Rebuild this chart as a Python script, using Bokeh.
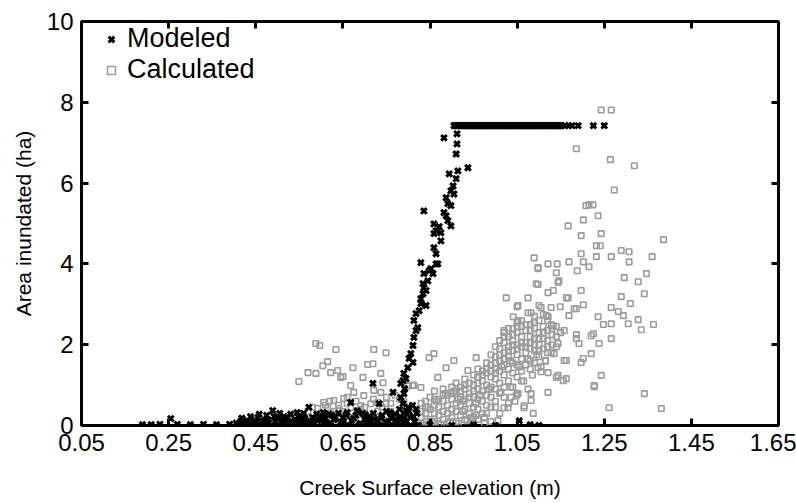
from bokeh.plotting import figure
from bokeh.models import ColumnDataSource, LinearAxis, FixedTicker, Range1d, Legend
from bokeh.embed import file_html
from bokeh.resources import INLINE

# ---------------- data ----------------
x_ticks = [0.05, 0.25, 0.45, 0.65, 0.85, 1.05, 1.25, 1.45, 1.65]
y_ticks = [0, 2, 4, 6, 8, 10]

# Modeled (black x)
modeled_x = [
    0.19, 0.21, 0.23, 0.255, 0.27, 0.30, 0.33, 0.36, 0.39,
    0.415, 0.42, 0.43, 0.435, 0.44, 0.45, 0.455, 0.46, 0.47, 0.475, 0.48, 0.489, 0.495, 0.50, 0.51,
    0.515, 0.52, 0.53, 0.535, 0.54, 0.55, 0.555, 0.56, 0.565, 0.572, 0.58, 0.585, 0.59, 0.60, 0.605,
    0.61, 0.62, 0.625, 0.63, 0.64, 0.645, 0.65, 0.66, 0.668, 0.67, 0.68, 0.69, 0.695, 0.70, 0.71,
    0.715, 0.719, 0.72, 0.73, 0.733, 0.74, 0.75, 0.755, 0.76, 0.765, 0.77, 0.775, 0.78, 0.785, 0.79,
    0.795, 0.80, 0.805, 0.81, 0.815, 0.82,
    0.424, 0.447, 0.463, 0.486, 0.503, 0.527, 0.544, 0.566, 0.583, 0.607, 0.622, 0.646, 0.663, 0.687,
    0.704, 0.726, 0.743, 0.767, 0.784, 0.806, 0.823,
    0.405, 0.418, 0.428, 0.438, 0.448, 0.458, 0.468, 0.478, 0.492, 0.505, 0.512, 0.523, 0.532, 0.545,
    0.552, 0.562, 0.575, 0.588, 0.597, 0.612, 0.618, 0.633, 0.652, 0.657, 0.675, 0.683, 0.702, 0.708,
    0.722, 0.738, 0.748, 0.758, 0.772, 0.782, 0.792, 0.802, 0.812, 0.818,
    0.829, 0.834, 0.836, 0.845, 0.836, 0.852, 0.868, 0.829, 0.864, 0.859, 0.859, 0.864, 0.898, 0.859,
    0.891, 0.882, 0.836, 0.891, 0.887, 0.905, 0.898, 0.910, 0.894, 0.914, 0.937, 0.910, 0.912, 0.912,
    0.882, 0.864, 0.857, 0.834, 0.829, 0.841, 0.818, 0.813, 0.822, 0.813, 0.806, 0.811, 0.799, 0.790,
    0.788, 0.783, 0.790, 0.783, 0.788, 0.875, 0.887, 0.871, 0.898, 0.903, 0.875, 0.848, 0.841, 0.825,
    0.818, 0.811, 0.802, 0.795, 0.792, 0.795, 0.790,
    0.905, 0.912, 0.918, 0.925, 0.932, 0.938, 0.945, 0.952, 0.958, 0.965, 0.972, 0.978, 0.985, 0.992,
    0.998, 1.005, 1.012, 1.018, 1.025, 1.032, 1.038, 1.045, 1.052, 1.058, 1.065, 1.072, 1.078, 1.085,
    1.092, 1.098, 1.105, 1.112, 1.118, 1.125, 1.132, 1.138, 1.145, 1.152, 1.160, 1.168, 1.176, 1.190,
    1.225, 1.250,
    0.908, 0.915, 0.922, 0.928, 0.935, 0.942, 0.948, 0.955, 0.962, 0.968, 0.975, 0.982, 0.988, 0.995,
    1.002, 1.008, 1.015, 1.022, 1.028, 1.035, 1.042, 1.048, 1.055, 1.062, 1.068, 1.075, 1.082, 1.088,
    1.095, 1.102, 1.108, 1.115, 1.122, 1.128, 1.135, 1.142, 1.148,
    0.85, 0.90, 0.95, 1.00, 1.055, 1.08, 1.10,
]
modeled_y = [
    0.02, 0.02, 0.03, 0.17, 0.03, 0.02, 0.03, 0.02, 0.03,
    0.10, 0.04, 0.12, 0.03, 0.15, 0.07, 0.20, 0.04, 0.12, 0.25, 0.06, 0.37, 0.10, 0.18, 0.05,
    0.22, 0.12, 0.28, 0.06, 0.15, 0.22, 0.08, 0.30, 0.12, 0.45, 0.20, 0.05, 0.28, 0.12, 0.32,
    0.18, 0.06, 0.25, 0.14, 0.30, 0.08, 0.20, 0.32, 0.57, 0.12, 0.25, 0.05, 0.30, 0.15, 0.22,
    0.08, 1.04, 0.30, 0.12, 0.54, 0.25, 0.35, 0.10, 0.20, 0.82, 0.28, 0.05, 0.40, 0.15, 0.30,
    0.08, 0.45, 0.20, 0.50, 0.10, 0.30,
    0.0, 0.0, 0.0, 0.0, 0.0, 0.0, 0.0, 0.0, 0.0, 0.0, 0.0, 0.0, 0.0, 0.0,
    0.0, 0.0, 0.0, 0.0, 0.0, 0.0, 0.0,
    0.06, 0.18, 0.08, 0.22, 0.10, 0.28, 0.06, 0.14, 0.22, 0.30, 0.12, 0.20, 0.10, 0.32,
    0.14, 0.18, 0.10, 0.16, 0.22, 0.08, 0.28, 0.20, 0.10, 0.26, 0.18, 0.36, 0.26, 0.12,
    0.16, 0.18, 0.08, 0.32, 0.14, 0.22, 0.12, 0.35, 0.22, 0.40,
    3.14, 3.26, 3.41, 3.58, 3.76, 3.88, 4.00, 4.03, 4.25, 4.40, 4.75, 4.82, 4.94, 4.99,
    5.07, 5.27, 5.31, 5.49, 5.64, 5.73, 5.81, 6.11, 6.23, 6.30, 6.38, 6.72, 6.97, 7.22,
    7.12, 4.00, 3.76, 3.51, 3.02, 2.97, 2.77, 2.60, 2.42, 2.18, 1.78, 1.56, 1.43, 1.29,
    1.11, 1.04, 0.79, 0.69, 0.54, 4.57, 5.19, 4.92, 5.44, 5.93, 4.77, 3.83, 3.34, 2.84,
    2.35, 1.98, 1.66, 1.16, 0.91, 0.37, 0.17,
    7.42, 7.42, 7.42, 7.42, 7.42, 7.42, 7.42, 7.42, 7.42, 7.42, 7.42, 7.42, 7.42, 7.42,
    7.42, 7.42, 7.42, 7.42, 7.42, 7.42, 7.42, 7.42, 7.42, 7.42, 7.42, 7.42, 7.42, 7.42,
    7.42, 7.42, 7.42, 7.42, 7.42, 7.42, 7.42, 7.42, 7.42, 7.42, 7.42, 7.42, 7.42, 7.42,
    7.42, 7.42,
    7.42, 7.42, 7.42, 7.42, 7.42, 7.42, 7.42, 7.42, 7.42, 7.42, 7.42, 7.42, 7.42, 7.42,
    7.42, 7.42, 7.42, 7.42, 7.42, 7.42, 7.42, 7.42, 7.42, 7.42, 7.42, 7.42, 7.42, 7.42,
    7.42, 7.42, 7.42, 7.42, 7.42, 7.42, 7.42, 7.42, 7.42,
    0.02, 0.0, 0.02, 0.0, 0.12, 0.02, 0.0,
]

# Calculated (grey squares)
calc_x = [
    1.243, 1.266, 1.186, 1.264, 1.319, 1.273, 1.215, 1.224, 1.208, 1.236, 1.202, 1.167, 1.243, 1.197,
    1.386, 1.232, 1.241, 1.289, 1.307, 1.197, 1.089, 1.232, 1.266, 1.360, 1.121, 1.142, 1.169, 1.202,
    1.215, 1.098, 1.188, 1.307, 1.140, 1.296, 1.328, 1.347, 1.098, 1.146, 1.133, 1.197, 1.025, 1.075,
    1.167, 1.289, 1.342, 1.310, 1.050, 1.105, 1.128, 1.149, 1.202, 1.266, 1.186, 1.082, 1.041, 1.121,
    1.169, 1.236, 1.282, 1.294, 1.328, 1.335, 1.363, 1.248, 1.266, 1.305, 1.128, 1.158, 1.186, 1.220,
    1.238, 1.266, 1.192, 1.128, 1.220, 1.163, 1.197, 1.135, 1.243, 1.227, 1.121, 1.156, 1.140, 1.105,
    1.342, 1.261, 1.381, 1.087, 1.082, 1.066,
    1.098, 1.144, 1.094, 1.121, 1.052, 1.163, 1.100, 1.075, 1.117, 1.181, 1.052, 1.089, 1.133, 1.225,
    1.020, 1.186, 1.144, 1.202, 0.956, 0.859, 0.848, 0.905, 0.887, 0.868, 0.937, 0.960, 0.813, 0.829,
    1.158, 1.098, 1.121, 1.144, 1.163, 1.227, 1.082, 1.048, 1.013, 1.029, 1.066, 1.006, 0.944,
    1.020, 1.036, 1.052,
    0.588, 0.597, 0.634, 0.721, 0.749, 0.615, 0.604, 0.570, 0.588, 0.622, 0.638, 0.645, 0.673, 0.707,
    0.719, 0.737, 0.549, 0.696, 0.742, 0.668, 0.698, 0.721, 0.737, 0.675, 0.652, 0.629, 0.606, 0.615,
    0.592, 0.641, 0.668, 0.691, 0.714, 0.730, 0.749, 0.684, 0.622, 0.650,
    0.57, 0.58, 0.60, 0.61, 0.63, 0.66, 0.70, 0.76, 0.78, 0.79, 0.81, 0.80,
    0.62, 0.64, 0.66, 0.68, 0.70, 0.72, 0.74, 0.76, 0.77, 0.79, 0.65, 0.69, 0.73, 0.75,
    0.83, 0.83, 0.83, 0.83, 0.84, 0.84, 0.84, 0.85, 0.85, 0.85, 0.85, 0.86, 0.86, 0.86, 0.86,
    0.87, 0.87, 0.87, 0.87, 0.88, 0.88, 0.88, 0.88, 0.89, 0.89, 0.89, 0.89, 0.90, 0.90, 0.90, 0.90,
    0.91, 0.91, 0.91, 0.91, 0.91, 0.92, 0.92, 0.92, 0.92, 0.93, 0.93, 0.93, 0.93, 0.93,
    0.94, 0.94, 0.94, 0.94, 0.95, 0.95, 0.95, 0.95, 0.95, 0.96, 0.96, 0.96, 0.96, 0.96,
    0.97, 0.97, 0.97, 0.97, 0.97, 0.98, 0.98, 0.98, 0.98, 0.98, 0.99, 0.99, 0.99, 0.99, 0.99, 0.99,
    1.00, 1.00, 1.00, 1.00, 1.00, 1.00, 1.01, 1.01, 1.01, 1.01, 1.01, 1.01,
    1.02, 1.02, 1.02, 1.02, 1.02, 1.02, 1.03, 1.03, 1.03, 1.03, 1.03,
    1.04, 1.04, 1.04, 1.04, 1.04, 1.05, 1.05, 1.05, 1.05, 1.05, 1.05,
    1.06, 1.06, 1.06, 1.06, 1.06, 1.07, 1.07, 1.07, 1.07, 1.08, 1.08, 1.08, 1.08,
    1.09, 1.09, 1.09, 1.09, 1.09, 1.10, 1.10, 1.10, 1.11, 1.11, 1.11, 1.12, 1.12, 1.12,
    1.13, 1.13, 1.14, 1.14,
    0.835, 0.855, 0.875, 0.895, 0.915, 0.935, 0.955, 0.975, 0.845, 0.865, 0.885, 0.905, 0.925,
    1.035, 1.065, 1.085, 1.105, 1.045, 1.075, 1.115,
    0.84, 0.86, 0.88, 0.90, 0.92, 0.93, 0.94, 0.95, 0.96, 0.97, 0.98, 0.99, 1.00, 1.00, 1.01,
    1.02, 1.02, 1.03, 1.03, 1.04, 1.04, 1.05, 1.05, 1.06, 1.06, 1.07, 1.07, 1.08, 1.08, 1.09,
    1.09, 1.10, 1.10, 1.10, 1.11, 1.11, 1.12, 1.12, 1.13, 1.14, 1.15, 1.08, 1.06, 1.04, 1.02,
    1.00, 0.98, 0.96, 0.975, 0.955, 0.985, 1.015, 1.035, 1.055, 1.075, 1.095, 1.115, 0.915, 0.925,
    0.945, 0.965, 0.99, 1.01, 1.03, 1.05,
]
calc_y = [
    7.81, 7.81, 6.85, 6.58, 6.43, 5.83, 5.46, 5.46, 5.44, 5.19, 5.09, 4.94, 4.75, 4.70,
    4.60, 4.45, 4.45, 4.33, 4.30, 4.25, 4.15, 4.18, 4.18, 4.18, 4.00, 4.00, 4.05, 4.05,
    3.93, 3.88, 3.83, 4.05, 3.78, 3.66, 3.56, 3.76, 3.49, 3.58, 3.34, 3.34, 3.16, 3.16,
    3.16, 3.19, 3.26, 3.02, 2.94, 2.92, 2.92, 2.94, 2.99, 2.92, 2.89, 2.79, 2.69, 2.69,
    2.72, 2.69, 2.82, 2.72, 2.62, 2.37, 2.50, 2.50, 2.52, 2.52, 2.50, 2.35, 2.25, 2.22,
    2.03, 2.15, 2.03, 1.80, 1.78, 1.61, 1.56, 1.78, 1.24, 0.96, 0.82, 1.11, 1.19, 1.33,
    0.79, 0.44, 0.42, 0.30, 0.62, 0.44,
    3.91, 3.54, 3.51, 3.29, 2.97, 3.16, 2.97, 2.79, 2.72, 2.89, 2.60, 2.55, 2.47, 2.27,
    2.35, 2.15, 2.03, 1.66, 1.68, 1.78, 1.68, 1.61, 1.43, 1.19, 1.36, 1.19, 0.99, 0.94,
    1.61, 1.43, 1.31, 1.24, 1.16, 0.99, 0.79, 0.74, 0.82, 0.44, 0.49, 0.12, 0.20,
    0.44, 0.70, 0.79,
    2.03, 1.98, 1.88, 1.88, 1.80, 1.58, 1.48, 1.31, 1.29, 1.31, 1.36, 1.19, 1.43, 1.51,
    1.53, 1.29, 1.09, 1.19, 1.06, 0.99, 0.74, 0.87, 0.82, 0.82, 0.67, 0.62, 0.57, 0.44,
    0.42, 0.42, 0.44, 0.49, 0.54, 0.57, 0.54, 0.37, 0.30, 1.21,
    0.35, 0.45, 0.30, 0.50, 0.35, 0.55, 0.30, 0.35, 0.65, 0.45, 1.00, 0.98,
    0.60, 0.50, 0.70, 0.60, 0.45, 0.65, 0.45, 0.55, 0.75, 0.60, 0.35, 0.40, 0.35, 0.70,
    0.05, 0.20, 0.35, 0.55, 0.10, 0.30, 0.60, 0.00, 0.15, 0.40, 0.70, 0.10, 0.30, 0.50, 0.85,
    0.05, 0.25, 0.45, 0.65, 0.15, 0.35, 0.60, 0.90, 0.05, 0.30, 0.50, 0.75, 0.20, 0.40, 0.65, 0.95,
    0.10, 0.35, 0.55, 0.80, 1.05, 0.25, 0.50, 0.70, 0.95, 0.15, 0.40, 0.65, 0.90, 1.15,
    0.30, 0.55, 0.80, 1.05, 0.20, 0.45, 0.70, 1.00, 1.25, 0.40, 0.65, 0.90, 1.20, 1.40,
    0.30, 0.60, 0.85, 1.10, 1.35, 0.50, 0.75, 1.00, 1.30, 1.55, 0.45, 0.70, 0.95, 1.20, 1.50, 1.75,
    0.60, 0.90, 1.15, 1.40, 1.70, 1.95, 0.80, 1.05, 1.35, 1.60, 1.90, 2.10,
    0.95, 1.25, 1.50, 1.80, 2.05, 2.30, 1.10, 1.40, 1.70, 1.95, 2.20,
    1.30, 1.55, 1.85, 2.10, 2.40, 1.20, 1.50, 1.75, 2.00, 2.30, 2.55,
    1.35, 1.65, 1.95, 2.20, 2.45, 1.50, 1.80, 2.05, 2.35, 1.60, 1.90, 2.20, 2.50,
    1.55, 1.85, 2.15, 2.40, 2.70, 1.70, 2.00, 2.30, 1.90, 2.15, 2.45, 1.80, 2.10, 2.35,
    2.00, 2.25, 1.95, 2.20,
    0.02, 0.08, 0.03, 0.10, 0.05, 0.12, 0.25, 0.20, 0.45, 0.60, 0.80, 0.85, 0.60,
    0.95, 1.10, 1.25, 1.45, 0.60, 0.90, 1.60,
    0.45, 0.65, 0.75, 0.80, 0.85, 1.00, 0.70, 0.85, 1.05, 1.25, 1.40, 1.35, 1.30, 1.55, 1.75,
    1.65, 2.20, 1.85, 2.40, 2.00, 2.25, 1.90, 2.45, 2.05, 2.60, 1.95, 2.50, 2.05, 2.35, 2.00,
    2.55, 1.85, 2.15, 2.60, 2.30, 2.75, 1.95, 2.60, 2.40, 2.45, 2.30, 1.40, 1.10, 0.95, 0.70,
    0.45, 0.30, 0.15, 0.05, 0.55, 0.90, 1.45, 1.60, 1.45, 1.65, 1.75, 1.60, 0.65, 0.35,
    0.15, 0.75, 0.10, 0.30, 0.55, 0.80,
]

# ---------------- figure ----------------
FONT = "Liberation Sans"

p = figure(width=796, height=503, output_backend="svg", toolbar_location=None,
           x_range=Range1d(0.05, 1.65), y_range=Range1d(0, 10),
           min_border_left=81, min_border_right=18, min_border_top=21, min_border_bottom=78)
p.background_fill_color = "white"
p.border_fill_color = "white"
p.xgrid.visible = False
p.ygrid.visible = False
p.outline_line_color = "black"
p.outline_line_width = 3

src_m = ColumnDataSource(dict(x=modeled_x, y=modeled_y))
src_c = ColumnDataSource(dict(x=calc_x, y=calc_y))

r_c = p.scatter("x", "y", source=src_c, marker="square", size=5.5, fill_color=None,
                line_color="#9c9c9c", line_width=1.6)
r_m = p.scatter("x", "y", source=src_m, marker="x", size=8, line_color="black", line_width=3)

def style_axis(ax, labels=True):
    ax.axis_line_color = None
    ax.major_tick_in = 7
    ax.major_tick_out = 0
    ax.major_tick_line_width = 3
    ax.major_tick_line_color = "black"
    ax.minor_tick_line_color = None
    if labels:
        ax.major_label_text_font = FONT
        ax.major_label_text_font_size = "24px"
        ax.major_label_text_color = "black"

xa = p.xaxis[0]
xa.ticker = FixedTicker(ticks=x_ticks)
xa.major_label_overrides = {t: f"{t:.2f}" for t in x_ticks}
style_axis(xa)
xa.major_label_standoff = 8
xa.axis_label = "Creek Surface elevation (m)"
xa.axis_label_text_font = FONT
xa.axis_label_text_font_size = "21px"
xa.axis_label_text_font_style = "normal"
xa.axis_label_text_color = "black"
xa.axis_label_standoff = 22

ya = p.yaxis[0]
ya.ticker = FixedTicker(ticks=y_ticks)
style_axis(ya)
ya.major_label_standoff = 8
ya.axis_label = "Area inundated (ha)"
ya.axis_label_text_font = FONT
ya.axis_label_text_font_size = "21px"
ya.axis_label_text_font_style = "normal"
ya.axis_label_text_color = "black"
ya.axis_label_standoff = 9

top = LinearAxis(ticker=FixedTicker(ticks=x_ticks))
style_axis(top, labels=False)
top.major_label_overrides = {t: "" for t in x_ticks}
p.add_layout(top, "above")
right = LinearAxis(ticker=FixedTicker(ticks=y_ticks))
style_axis(right, labels=False)
right.major_label_overrides = {t: "" for t in y_ticks}
p.add_layout(right, "right")

legend = Legend(items=[("Modeled", [r_m]), ("Calculated", [r_c])],
                location=(20, 340), border_line_color=None, background_fill_alpha=0,
                label_text_font=FONT, label_text_font_size="27px", label_text_color="black",
                glyph_width=20, glyph_height=20, label_standoff=6, spacing=0, padding=6,
                label_height=28)
p.add_layout(legend)

open("out.html", "w").write(file_html(p, INLINE))
